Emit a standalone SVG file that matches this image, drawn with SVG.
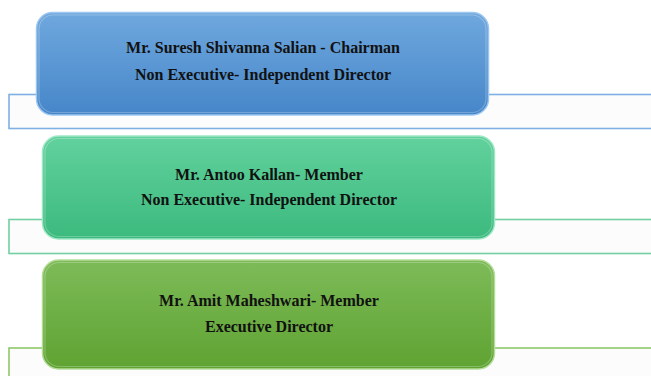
<svg xmlns="http://www.w3.org/2000/svg" width="651" height="376" viewBox="0 0 651 376">
  <defs>
    <linearGradient id="gBlue" x1="0" y1="0" x2="0" y2="1">
      <stop offset="0" stop-color="#6fa8de"/>
      <stop offset="1" stop-color="#4686c9"/>
    </linearGradient>
    <linearGradient id="gGreen" x1="0" y1="0" x2="0" y2="1">
      <stop offset="0" stop-color="#62d19d"/>
      <stop offset="1" stop-color="#3cba7e"/>
    </linearGradient>
    <linearGradient id="gOlive" x1="0" y1="0" x2="0" y2="1">
      <stop offset="0" stop-color="#7dbb58"/>
      <stop offset="1" stop-color="#5fa332"/>
    </linearGradient>
    <style>
      .band { fill: #fcfcfd; stroke-width: 1.6; }
      .box { stroke-width: 1.5; }
      .gloss { fill: none; stroke: #ffffff; stroke-opacity: 0.25; stroke-width: 1.2; }
      .lbl { font-family: "Liberation Serif", "Times New Roman", serif; font-weight: bold; font-size: 16px; fill: #111; text-anchor: middle; }
    </style>
  </defs>
  <rect width="651" height="376" fill="#ffffff"/>
  <g id="bands">
    <rect class="band" x="9" y="94.5" width="660" height="34" stroke="#7fb0e4"/>
    <rect class="band" x="9" y="219.5" width="660" height="34" stroke="#72cfa2"/>
    <rect class="band" x="9" y="348" width="660" height="40" stroke="#8ec76a"/>
  </g>
  <g id="connectors"></g>
  <g id="node1">
    <rect class="box" x="36.5" y="12.5" width="452" height="102.5" rx="16" fill="url(#gBlue)" stroke="#9cc6ef"/>
    <rect class="gloss" x="39" y="15" width="447" height="97.5" rx="14"/>
    <text class="lbl" x="263" y="53">Mr. Suresh Shivanna Salian - Chairman</text>
    <text class="lbl" x="263" y="80">Non Executive- Independent Director</text>
  </g>
  <g id="node2">
    <rect class="box" x="42.5" y="136" width="452" height="103" rx="16" fill="url(#gGreen)" stroke="#9fe8c6"/>
    <rect class="gloss" x="45" y="138.5" width="447" height="98" rx="14"/>
    <text class="lbl" x="269" y="180">Mr. Antoo Kallan- Member</text>
    <text class="lbl" x="269" y="205">Non Executive- Independent Director</text>
  </g>
  <g id="node3">
    <rect class="box" x="42.5" y="260" width="452" height="109" rx="16" fill="url(#gOlive)" stroke="#b4dd98"/>
    <rect class="gloss" x="45" y="262.5" width="447" height="104" rx="14"/>
    <text class="lbl" x="269" y="306">Mr. Amit Maheshwari- Member</text>
    <text class="lbl" x="269" y="332">Executive Director</text>
  </g>
</svg>
